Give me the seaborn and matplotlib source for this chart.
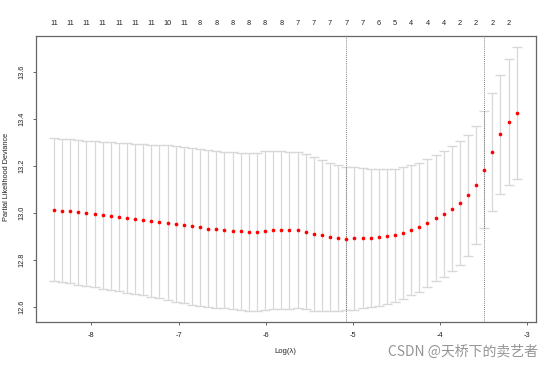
import numpy as np
import seaborn as sns
import matplotlib
matplotlib.use("Agg")
import matplotlib.pyplot as plt

# log(lambda) path (58 values)
log_lambda = [-8.428, -8.335, -8.242, -8.149, -8.056, -7.963, -7.869, -7.776, -7.683, -7.590,
              -7.497, -7.404, -7.311, -7.218, -7.125, -7.032, -6.938, -6.845, -6.752, -6.659,
              -6.566, -6.473, -6.380, -6.287, -6.194, -6.101, -6.007, -5.914, -5.821, -5.728,
              -5.635, -5.542, -5.449, -5.356, -5.263, -5.170, -5.076, -4.983, -4.890, -4.797,
              -4.704, -4.611, -4.518, -4.425, -4.332, -4.239, -4.145, -4.052, -3.959, -3.866,
              -3.773, -3.680, -3.587, -3.494, -3.401, -3.308, -3.214, -3.121]

# mean cross-validated partial likelihood deviance
cvm = [13.013, 13.0085, 13.006, 13.002, 12.997, 12.993, 12.989, 12.986, 12.982, 12.977,
       12.973, 12.970, 12.966, 12.962, 12.957, 12.952, 12.948, 12.942, 12.938, 12.932,
       12.929, 12.926, 12.923, 12.921, 12.919, 12.919, 12.923, 12.925, 12.926, 12.925,
       12.925, 12.919, 12.911, 12.904, 12.898, 12.892, 12.890, 12.8905, 12.891, 12.893,
       12.896, 12.899, 12.905, 12.914, 12.925, 12.938, 12.956, 12.976, 12.994, 13.017,
       13.041, 13.074, 13.118, 13.183, 13.258, 13.334, 13.385, 13.426]

# standard error (half length of each bar)
cvsd = [0.304, 0.305, 0.306, 0.308, 0.309, 0.311, 0.313, 0.315, 0.316, 0.318,
        0.319, 0.321, 0.323, 0.326, 0.329, 0.331, 0.332, 0.333, 0.334, 0.335,
        0.334, 0.333, 0.334, 0.335, 0.336, 0.337, 0.338, 0.337, 0.336, 0.334,
        0.332, 0.331, 0.328, 0.322, 0.315, 0.309, 0.306, 0.303, 0.298, 0.294,
        0.292, 0.289, 0.283, 0.280, 0.277, 0.275, 0.271, 0.268, 0.267, 0.265,
        0.263, 0.257, 0.252, 0.250, 0.250, 0.254, 0.268, 0.281]

# number of non-zero coefficients (shown on top, every second lambda)
nzero_labels = ["11", "11", "11", "11", "11", "11", "11", "10", "11", "8",
                "8", "8", "8", "8", "8", "7", "7", "7", "7", "7",
                "6", "5", "4", "4", "4", "2", "2", "2", "2"]

lambda_min = log_lambda[36]
lambda_1se = log_lambda[53]

x_ticks = [-8, -7, -6, -5, -4, -3]
y_ticks = [12.6, 12.8, 13.0, 13.2, 13.4, 13.6]

sns.set_style("white")
plt.rcParams['font.family'] = ['Liberation Sans', 'DejaVu Sans']

fig = plt.figure(figsize=(5.54, 3.67), dpi=100)
ax = fig.add_axes([0.065, 0.1234, 0.902, 0.7785])

ax.errorbar(log_lambda, cvm, yerr=cvsd, fmt='none', ecolor='#d8d8d8',
            elinewidth=0.9, capsize=3.6, capthick=1.0, zorder=1)
sns.scatterplot(x=log_lambda, y=cvm, color='red', s=7, linewidth=0, ax=ax, zorder=3)

for v in [lambda_min, lambda_1se]:
    ax.axvline(v, color='#555555', ls=(0, (1, 1.5)), lw=0.6, zorder=2)

ax.set_xlim(-8.634, -2.904)
ax.set_ylim(12.536, 13.752)
ax.set_xticks(x_ticks)
ax.set_xticklabels([str(t) for t in x_ticks])
ax.set_yticks(y_ticks)
ax.set_yticklabels([f"{t:.1f}" for t in y_ticks], rotation=90, va='center')

for s in ax.spines.values():
    s.set_color('#666666')
    s.set_linewidth(0.9)
ax.tick_params(axis='x', length=2.4, width=0.7, color='#666666', labelsize=5.3,
               labelcolor='#222222', pad=5.2, bottom=True)
ax.tick_params(axis='y', length=2.4, width=0.7, color='#666666', labelsize=5.3,
               labelcolor='#222222', pad=5.0, left=True)

top = ax.twiny()
top.set_xlim(ax.get_xlim())
top.set_xticks(log_lambda[::2])
top.set_xticklabels(nzero_labels)
top.tick_params(axis='x', length=0, labelsize=5.3, labelcolor='#222222', pad=6.5)
for s in top.spines.values():
    s.set_visible(False)

fig.text(0.0115, 1 - 176.5 / 367, "Partial Likelihood Deviance", rotation=90,
         ha='center', va='center', fontsize=5.3, color='#222222')
fig.text(285 / 554, 1 - 351.7 / 367, "Log(λ)", ha='center', va='center',
         fontsize=5.5, color='#222222')
fig.text(538 / 554, 1 - 352 / 367, "CSDN @天桥下的卖艺者", ha='right', va='center',
         fontsize=10, color='#959595', family=['Noto Sans CJK SC', 'DejaVu Sans'])

fig.savefig("out.png", dpi=100)
